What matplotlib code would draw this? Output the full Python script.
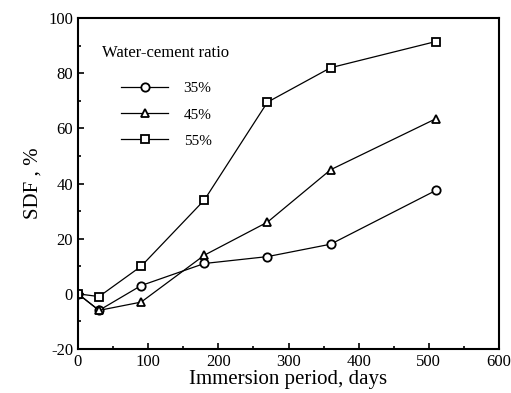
import matplotlib
matplotlib.use("Agg")
import matplotlib.pyplot as plt
from matplotlib.ticker import MultipleLocator

plt.rcParams['font.family'] = ['Liberation Serif', 'DejaVu Serif']
plt.rcParams['axes.unicode_minus'] = False

days = [0, 30, 90, 180, 270, 360, 510]
sdf_35 = [0, -6, 3, 11, 13.5, 18, 37.5]
sdf_45 = [0, -6, -3, 14, 26, 45, 63.5]
sdf_55 = [0, -1, 10, 34, 69.5, 82, 91.5]
labels = ['35%', '45%', '55%']
markers = ['o', '^', 's']

fig = plt.figure(figsize=(5.11, 3.93), dpi=100)
ax = fig.add_axes([0.1526, 0.112, 0.824, 0.842])

for y, lab, m in zip([sdf_35, sdf_45, sdf_55], labels, markers):
    ax.plot(days, y, color='black', lw=0.9, marker=m, markersize=6,
            markerfacecolor='white', markeredgecolor='black', markeredgewidth=1.3,
            label=lab)

ax.set_xlim(0, 600)
ax.set_ylim(-20, 100)
ax.xaxis.set_major_locator(MultipleLocator(100))
ax.xaxis.set_minor_locator(MultipleLocator(50))
ax.yaxis.set_major_locator(MultipleLocator(20))
ax.yaxis.set_minor_locator(MultipleLocator(10))
ax.tick_params(which='both', direction='in', labelsize=12, width=1.2)
ax.tick_params(which='major', length=4)
ax.tick_params(which='minor', length=2.5)
for s in ax.spines.values():
    s.set_linewidth(1.5)

ax.set_xlabel('Immersion period, days', fontsize=15, labelpad=0)
ax.set_ylabel('SDF , %', fontsize=15, labelpad=4)

ax.text(0.057, 0.894, 'Water-cement ratio', transform=ax.transAxes,
        fontsize=12, va='center', ha='left')
leg = ax.legend(loc='upper left', bbox_to_anchor=(0.102, 0.808),
                frameon=False, fontsize=11, handlelength=3.1,
                handletextpad=1.0, labelspacing=0.82, borderpad=0,
                borderaxespad=0)

fig.savefig('out.png', dpi=100)
